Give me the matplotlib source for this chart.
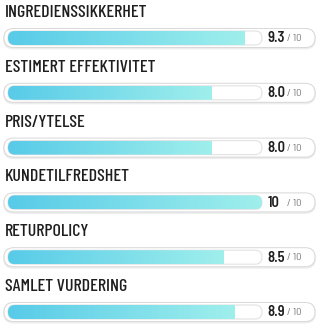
import numpy as np
import matplotlib
matplotlib.use("Agg")
import matplotlib.pyplot as plt
from matplotlib.patches import FancyBboxPatch
from matplotlib.colors import LinearSegmentedColormap

# ratings out of 10
labels = ["INGREDIENSSIKKERHET", "ESTIMERT EFFEKTIVITET", "PRIS/YTELSE",
          "KUNDETILFREDSHET", "RETURPOLICY", "SAMLET VURDERING"]
scores = [9.3, 8.0, 8.0, 10, 8.5, 8.9]
score_text = ["9.3", "8.0", "8.0", "10", "8.5", "8.9"]
max_score = 10

TITLE_FONT = "Barlow Condensed"
VALUE_FONT = "Barlow Semi Condensed"
W, H = 321, 330
fig = plt.figure(figsize=(W / 100, H / 100), dpi=100)
fig.patch.set_facecolor("white")

# x axis: score units, 0 at px 8, 10 at px 262
x0_px, x1_px = 8, 262
px_per_x = (x1_px - x0_px) / max_score
# y axis: row index, row 0 bar centre at px 38, rows every 54.8 px
row0_px, row_px = 38, 54.8
ax = fig.add_axes([x0_px / W, 0, (x1_px - x0_px) / W, 1])
ax.set_xlim(0, max_score)
ax.set_ylim((H - row0_px) / row_px, -row0_px / row_px)
ax.axis("off")


def px2x(p):
    return p / px_per_x


def px2y(p):
    return p / row_px


aspect = px_per_x / row_px
cmap = LinearSegmentedColormap.from_list("bar", ["#58cbe8", "#9fefec"])
grad = np.linspace(0, 1, 256).reshape(1, -1)


def pill(x, y, w_px, h_px, **kw):
    return FancyBboxPatch((x, y - px2y(h_px) / 2), px2x(w_px), px2y(h_px),
                          boxstyle="round,pad=0,rounding_size=%f" % px2x(h_px / 2),
                          mutation_aspect=aspect, **kw)


for i, (lab, s, st) in enumerate(zip(labels, scores, score_text)):
    # outer pill: soft shadow, grey border, white body
    ax.add_patch(pill(px2x(-5), i + px2y(1), 313, 21, fc="#ededed", ec="none", clip_on=False, zorder=1))
    ax.add_patch(pill(px2x(-4.5), i, 312, 20, fc="#d9d9d9", ec="none", clip_on=False, zorder=1))
    ax.add_patch(pill(px2x(-3.5), i, 310, 18, fc="white", ec="none", clip_on=False, zorder=1))
    # inner track
    ax.add_patch(pill(0, i, x1_px - x0_px, 14, fc="white", ec="#e2e2e2", lw=0.8,
                      clip_on=False, zorder=2))
    # gradient fill clipped to rounded track
    im = ax.imshow(grad, cmap=cmap, aspect="auto", extent=(0, s, i + px2y(7), i - px2y(7)),
                   zorder=3, interpolation="bilinear")
    im.set_clip_path(pill(0, i, x1_px - x0_px, 14, transform=ax.transData))

    ax.text(px2x(-3), i - px2y(25.5), lab, fontsize=13, family=TITLE_FONT,
            fontweight=500, color="#1e1e1e", va="center", ha="left", clip_on=False)
    ax.text(px2x(259.5), i + px2y(0.3), st, fontsize=10.5, family=VALUE_FONT,
            fontweight=600, color="#1e1e1e", va="center", ha="left", clip_on=False)
    ax.text(px2x(279), i + px2y(0.8), "/ 10", fontsize=7.5, family=VALUE_FONT,
            color="#777777", va="center", ha="left", clip_on=False)

fig.savefig("out.png", dpi=100, facecolor="white")
